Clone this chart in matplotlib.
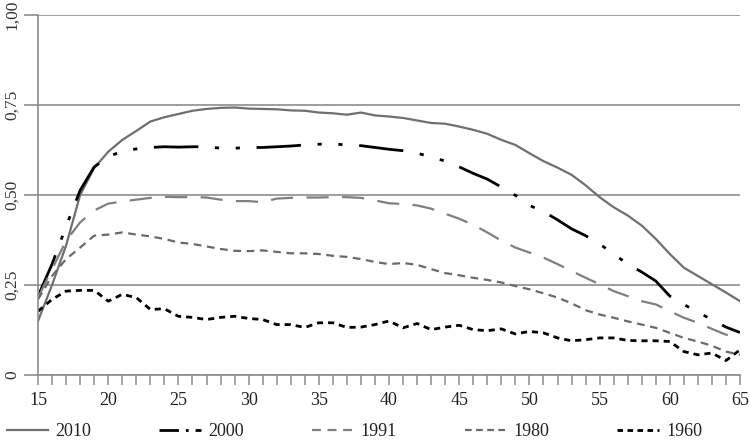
import numpy as np
import matplotlib
matplotlib.use("Agg")
import matplotlib.pyplot as plt
from matplotlib.ticker import MultipleLocator, FixedLocator

plt.rcParams['font.family'] = ['Liberation Serif', 'DejaVu Serif']

ages = list(range(15, 66))

s2010 = [0.15, 0.25, 0.36, 0.50, 0.575, 0.62, 0.653, 0.678, 0.704, 0.716,
         0.725, 0.734, 0.739, 0.742, 0.743, 0.740, 0.739, 0.738, 0.735, 0.734,
         0.729, 0.727, 0.723, 0.729, 0.721, 0.718, 0.714, 0.707, 0.700, 0.698,
         0.690, 0.681, 0.670, 0.653, 0.639, 0.616, 0.594, 0.576, 0.556, 0.527,
         0.494, 0.466, 0.443, 0.415, 0.378, 0.336, 0.298, 0.275, 0.252, 0.229,
         0.205]
s2000 = [0.219, 0.308, 0.413, 0.513, 0.578, 0.606, 0.622, 0.628, 0.632, 0.634,
         0.633, 0.634, 0.634, 0.630, 0.630, 0.632, 0.632, 0.634, 0.636, 0.639,
         0.641, 0.642, 0.639, 0.637, 0.632, 0.627, 0.623, 0.616, 0.606, 0.594,
         0.578, 0.560, 0.544, 0.522, 0.499, 0.471, 0.454, 0.431, 0.406, 0.387,
         0.364, 0.336, 0.308, 0.286, 0.261, 0.219, 0.196, 0.174, 0.154, 0.133,
         0.118]
s1991 = [0.215, 0.294, 0.373, 0.424, 0.457, 0.476, 0.482, 0.487, 0.492, 0.495,
         0.494, 0.494, 0.493, 0.487, 0.483, 0.483, 0.480, 0.490, 0.492, 0.493,
         0.493, 0.494, 0.494, 0.492, 0.485, 0.477, 0.475, 0.471, 0.462, 0.448,
         0.434, 0.417, 0.396, 0.373, 0.354, 0.340, 0.326, 0.308, 0.289, 0.270,
         0.252, 0.233, 0.219, 0.205, 0.196, 0.177, 0.159, 0.145, 0.128, 0.112,
         0.103]
s1980 = [0.210, 0.275, 0.322, 0.354, 0.387, 0.390, 0.396, 0.390, 0.385, 0.378,
         0.368, 0.364, 0.357, 0.350, 0.345, 0.344, 0.346, 0.342, 0.338, 0.338,
         0.336, 0.331, 0.328, 0.322, 0.314, 0.308, 0.311, 0.306, 0.294, 0.283,
         0.277, 0.270, 0.264, 0.257, 0.247, 0.238, 0.227, 0.215, 0.199, 0.180,
         0.168, 0.159, 0.149, 0.140, 0.131, 0.117, 0.103, 0.093, 0.081, 0.065,
         0.056]
s1960 = [0.177, 0.210, 0.233, 0.235, 0.235, 0.205, 0.224, 0.215, 0.182, 0.184,
         0.163, 0.160, 0.154, 0.160, 0.163, 0.157, 0.154, 0.140, 0.140, 0.132,
         0.145, 0.145, 0.132, 0.133, 0.140, 0.150, 0.131, 0.143, 0.126, 0.133,
         0.138, 0.126, 0.123, 0.128, 0.114, 0.121, 0.117, 0.103, 0.095, 0.098,
         0.103, 0.103, 0.096, 0.095, 0.095, 0.093, 0.065, 0.056, 0.061, 0.040,
         0.070]

y_ticks = [0, 0.25, 0.5, 0.75, 1.0]
y_labels = ["0", "0,25", "0,50", "0,75", "1,00"]

fig = plt.figure(figsize=(7.5, 4.41), dpi=100)
ax = fig.add_axes([0.0507, 0.1497, 0.9360, 0.8163])

ax.plot(ages, s2010, color='#6f6f6f', lw=1.6, label='2010')
ax.plot(ages, s2000, color='black', lw=2.0, dashes=(16, 6, 1.5, 6, 1.5, 6), label='2000')
ax.plot(ages, s1991, color='#7f7f7f', lw=1.6, dashes=(10, 6), label='1991')
ax.plot(ages, s1980, color='#6a6a6a', lw=1.6, dashes=(3.5, 2.5), label='1980')
ax.plot(ages, s1960, color='black', lw=2.0, dashes=(2.2, 1.8), label='1960')

ax.set_xlim(15, 65)
ax.set_ylim(0, 1.0)
ax.set_yticks(y_ticks)
ax.set_yticklabels(y_labels, rotation=90, va='center', fontsize=12.5, color='#333333')
ax.yaxis.grid(True, color='#8c8c8c', lw=1.2)
ax.set_axisbelow(True)

ax.xaxis.set_major_locator(MultipleLocator(5))
ax.xaxis.set_minor_locator(MultipleLocator(1))
ax.tick_params(axis='x', which='both', direction='out', length=7, width=1.1,
               color='#8c8c8c', labelsize=13, pad=5, labelcolor='#222222')
ax.tick_params(axis='y', which='both', direction='out', length=10, width=1.2,
               color='#8c8c8c', pad=3)

for side in ['top', 'right']:
    ax.spines[side].set_visible(False)
for side in ['left', 'bottom']:
    ax.spines[side].set_color('#8c8c8c')
    ax.spines[side].set_linewidth(1.2)

leg = fig.legend(loc='lower left', bbox_to_anchor=(0.009, 0.002, 0.927, 0.04), ncol=5,
                 mode='expand', frameon=False, fontsize=13, handlelength=2.3,
                 handletextpad=0.4, borderaxespad=0.0, borderpad=0.0)
for t in leg.get_texts():
    t.set_color('#222222')
# legend handles: show the patterns the same way the reference does
hl = leg.get_lines()
hl[1].set_dashes((7, 2.5, 1, 2.5))
hl[2].set_dashes((4, 3))
hl[3].set_dashes((3, 2))
hl[4].set_dashes((2, 1.6))

fig.savefig('out.png', dpi=100)
